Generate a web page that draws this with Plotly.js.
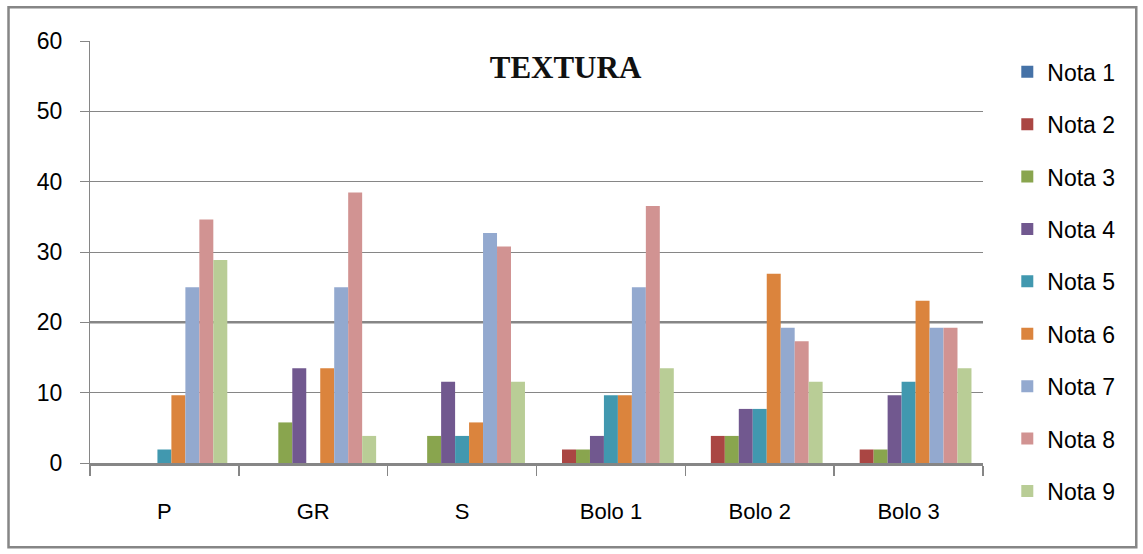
<!DOCTYPE html>
<html>
<head>
<meta charset="utf-8">
<script src="https://cdn.plot.ly/plotly-3.0.1.min.js"></script>
<style>
html,body{margin:0;padding:0;background:#fff;}
#chart{width:1143px;height:554px;}
</style>
</head>
<body>
<div id="chart"></div>
<script>
var categories = ["P", "GR", "S", "Bolo 1", "Bolo 2", "Bolo 3"];
var seriesNames = ["Nota 1", "Nota 2", "Nota 3", "Nota 4", "Nota 5", "Nota 6", "Nota 7", "Nota 8", "Nota 9"];
var nota1 = [0, 0, 0, 0, 0, 0];
var nota2 = [0, 0, 0, 1.92, 3.85, 1.92];
var nota3 = [0, 5.77, 3.85, 1.92, 3.85, 1.92];
var nota4 = [0, 13.46, 11.54, 3.85, 7.69, 9.62];
var nota5 = [1.92, 0, 3.85, 9.62, 7.69, 11.54];
var nota6 = [9.62, 13.46, 5.77, 9.62, 26.92, 23.08];
var nota7 = [25, 25, 32.69, 25, 19.23, 19.23];
var nota8 = [34.62, 38.46, 30.77, 36.54, 17.31, 19.23];
var nota9 = [28.85, 3.85, 11.54, 13.46, 11.54, 13.46];
var yTicks = [0, 10, 20, 30, 40, 50, 60];
var colors = ["#4572A7", "#AA4643", "#89A54E", "#71588F", "#4198AF", "#DB843D", "#93A9CF", "#D19392", "#B9CD96"];

var allSeries = [nota1, nota2, nota3, nota4, nota5, nota6, nota7, nota8, nota9];
var traces = allSeries.map(function (vals, i) {
  return {
    type: "bar",
    name: seriesNames[i],
    x: categories,
    y: vals,
    legendgroup: "g" + i,
    marker: {color: colors[i], line: {width: 0}},
    hoverinfo: "x+y+name"
  };
});

var W = 1143, H = 554;
var mL = 89.5, mR = 160.3, mT = 40.7, mB = 90.5;
var pw = W - mL - mR, ph = H - mT - mB;
function px2x(p) { return (p - mL) / pw; }
function py2y(p) { return 1 - (p - mT) / ph; }

var grid = "#868686";
var layout = {
  width: W, height: H,
  margin: {l: mL, r: mR, t: mT, b: mB, pad: 0},
  paper_bgcolor: "#ffffff",
  plot_bgcolor: "#ffffff",
  barmode: "group",
  bargap: 0.155,
  bargroupgap: 0,
  font: {family: "Liberation Sans, Arial, sans-serif", color: "#000000"},
  title: {
    text: "<b>TEXTURA</b>",
    font: {family: "Liberation Serif, Times New Roman, serif", size: 31, color: "#111111"},
    xref: "container", x: 565.5 / W, xanchor: "center",
    yref: "container", y: 1 - 67 / H, yanchor: "middle"
  },
  xaxis: {
    type: "category",
    showgrid: false,
    showline: true, linecolor: grid, linewidth: 2.5,
    ticks: "outside", tickson: "boundaries", ticklen: 10, tickcolor: grid, tickwidth: 1.5,
    tickfont: {size: 22, color: "#000000"},
    ticklabelstandoff: 27,
    zeroline: false,
    fixedrange: true
  },
  yaxis: {
    range: [0, 60],
    tickvals: yTicks,
    ticktext: yTicks.map(String),
    showgrid: true, gridcolor: grid, gridwidth: 1,
    showline: true, linecolor: grid, linewidth: 1,
    ticks: "outside", ticklen: 9, tickcolor: grid, tickwidth: 1,
    tickfont: {size: 23, color: "#000000"},
    ticklabelstandoff: 13,
    zeroline: false,
    fixedrange: true
  },
  legend: {
    x: px2x(1007), xanchor: "left",
    y: py2y(50), yanchor: "top",
    font: {size: 23, color: "#000000"},
    traceorder: "grouped",
    tracegroupgap: 19.5,
    maxheight: 540,
    bgcolor: "rgba(0,0,0,0)"
  },
  shapes: [
    {type: "line", xref: "paper", yref: "y", x0: 0, x1: 1, y0: 20, y1: 20,
     line: {color: grid, width: 2.5}, layer: "below"},
    {type: "rect", xref: "paper", yref: "paper",
     x0: px2x(8), x1: px2x(1136), y0: py2y(548), y1: py2y(7),
     line: {color: grid, width: 2.5}, fillcolor: "rgba(0,0,0,0)"}
  ],
  showlegend: true
};

Plotly.newPlot("chart", traces, layout, {displayModeBar: false, staticPlot: true});
</script>
</body>
</html>
